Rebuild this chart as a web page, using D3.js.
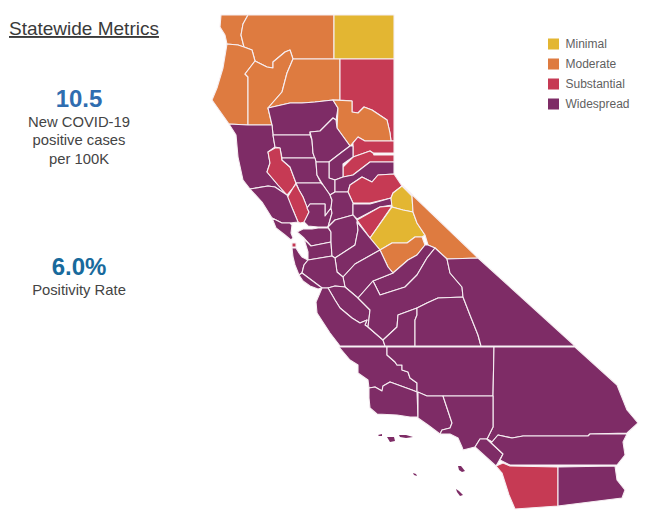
<!DOCTYPE html>
<html>
<head>
<meta charset="utf-8">
<script src="https://cdn.jsdelivr.net/npm/d3@7"></script>
<style>
    html, body { margin: 0; background: #fff; }
    text { font-family: "Liberation Sans", Arial, sans-serif; }
</style>
</head>
<body>
<div id="chart"></div>
<script>
const tierNames = ['Minimal', 'Moderate', 'Substantial', 'Widespread'];
const tierColors = ['#e3b632', '#de7b40', '#c63a54', '#7e2c66'];

const metricValues = ['10.5', '6.0%'];
const metricColors = ['#2f6db0', '#186a9c'];
const metricLabels = [['New COVID-19', 'positive cases', 'per 100K'], ['Positivity Rate']];

const countyNames = [
    'Del Norte', 'Siskiyou', 'Modoc', 'Humboldt', 'Trinity', 'Shasta', 'Lassen', 'Tehama', 'Plumas', 'Mendocino',
    'Glenn', 'Butte', 'Sierra', 'Nevada', 'Yuba', 'Lake', 'Colusa', 'Sutter', 'Placer', 'El Dorado',
    'Yolo', 'Napa', 'Sonoma', 'Solano', 'Sacramento', 'Amador', 'Alpine', 'Calaveras', 'Tuolumne', 'Mono',
    'Mariposa', 'Madera', 'Marin', 'Contra Costa', 'Alameda', 'San Joaquin', 'Stanislaus', 'Merced', 'San Francisco', 'San Mateo',
    'Santa Clara', 'Santa Cruz', 'San Benito', 'Monterey', 'Fresno', 'Kings', 'Tulare', 'Inyo', 'San Luis Obispo', 'Kern',
    'San Bernardino', 'Santa Barbara', 'Ventura', 'Los Angeles', 'Orange', 'Riverside', 'San Diego', 'Imperial'
];

const countyTiers = [
    'Moderate', 'Moderate', 'Minimal', 'Moderate', 'Moderate', 'Moderate', 'Substantial', 'Widespread', 'Moderate', 'Widespread',
    'Widespread', 'Widespread', 'Substantial', 'Substantial', 'Widespread', 'Substantial', 'Widespread', 'Widespread', 'Widespread', 'Substantial',
    'Widespread', 'Substantial', 'Widespread', 'Widespread', 'Widespread', 'Widespread', 'Minimal', 'Substantial', 'Minimal', 'Moderate',
    'Moderate', 'Widespread', 'Widespread', 'Widespread', 'Widespread', 'Widespread', 'Widespread', 'Widespread', 'Substantial', 'Widespread',
    'Widespread', 'Widespread', 'Widespread', 'Widespread', 'Widespread', 'Widespread', 'Widespread', 'Widespread', 'Widespread', 'Widespread',
    'Widespread', 'Widespread', 'Widespread', 'Widespread', 'Widespread', 'Widespread', 'Substantial', 'Widespread'
];

// outlines, in map units, same order as countyNames
const countyOutlines = [
    [[221,15],[248,15],[243,24],[241,35],[244,47],[238,45],[227,44],[225,35],[220,27]],
    [[248,15],[334,15],[334,59],[293,59],[290,50],[285,52],[273,62],[273,68],[267,67],[255,61],[252,50],[244,47],[241,35],[243,24]],
    [[334,15],[394,15],[394,59],[334,59]],
    [[227,44],[238,45],[244,47],[252,50],[255,61],[245,74],[248,77],[248,125],[229,124],[212,100],[217,88],[223,68]],
    [[255,61],[267,67],[273,68],[273,62],[285,52],[290,50],[293,59],[287,73],[282,92],[268,108],[272,125],[248,125],[248,77],[245,74]],
    [[293,59],[340,59],[340,100],[333,100],[315,102],[302,103],[290,103],[268,108],[282,92],[287,73]],
    [[340,59],[394,59],[394,141],[391,141],[390,133],[387,120],[372,110],[364,107],[358,113],[352,112],[352,101],[340,100]],
    [[268,108],[290,103],[302,103],[315,102],[333,100],[338,108],[336,120],[333,118],[320,131],[310,132],[310,135],[273,135],[272,125]],
    [[333,100],[352,101],[352,112],[358,113],[364,107],[372,110],[387,120],[390,133],[391,141],[365,141],[358,137],[350,146],[337,128],[338,108]],
    [[229,124],[248,125],[272,125],[273,135],[275,147],[268,152],[270,163],[267,172],[278,185],[287,195],[275,187],[268,186],[250,189],[243,180],[238,157],[236,135]],
    [[273,135],[310,135],[312,140],[313,153],[315,158],[282,158],[280,148],[275,147]],
    [[310,132],[320,131],[333,118],[336,120],[337,128],[350,146],[342,152],[329,162],[316,162],[313,153],[312,140]],
    [[353,157],[353,143],[358,137],[365,141],[394,141],[394,153],[373,153],[370,151]],
    [[343,177],[343,167],[353,157],[370,151],[373,153],[374,155],[394,155],[394,162],[370,162],[353,175]],
    [[342,152],[350,146],[353,146],[353,157],[343,164],[343,177],[335,180],[329,178],[329,162]],
    [[268,152],[275,148],[280,148],[282,160],[290,167],[296,183],[293,188],[287,195],[278,185],[267,172],[270,163]],
    [[282,158],[315,158],[316,162],[317,175],[321,183],[296,183],[290,167],[282,160]],
    [[316,162],[329,162],[329,178],[335,180],[335,192],[330,195],[323,185],[317,175]],
    [[335,180],[343,177],[353,175],[370,162],[394,162],[394,174],[378,175],[372,182],[362,177],[350,185],[348,192],[335,192]],
    [[348,192],[350,185],[362,177],[372,182],[378,175],[394,174],[402,186],[393,193],[391,198],[370,203],[353,203]],
    [[296,183],[321,183],[323,185],[330,195],[332,200],[331,208],[325,216],[325,204],[310,204],[307,208],[303,197],[299,190]],
    [[287,198],[293,188],[296,184],[299,190],[303,197],[309,212],[305,222],[300,223],[298,222],[293,210]],
    [[250,189],[268,186],[275,187],[287,195],[293,210],[298,222],[290,223],[282,223],[272,218],[262,202]],
    [[307,208],[310,204],[325,204],[325,216],[331,208],[332,213],[328,227],[318,227],[308,226],[304,222],[309,212]],
    [[335,192],[348,192],[353,203],[353,215],[335,220],[328,227],[332,213],[331,208],[332,200],[330,195]],
    [[353,204],[370,204],[391,198],[392,205],[380,207],[357,219],[353,215]],
    [[402,186],[412,196],[413,212],[403,210],[392,207],[391,198],[393,193]],
    [[357,220],[380,207],[392,206],[370,238]],
    [[370,238],[392,207],[403,210],[413,212],[417,223],[425,235],[422,237],[415,237],[407,243],[392,243],[380,250]],
    [[403,186],[478,258],[447,259],[435,248],[428,245],[425,235],[417,223],[413,212],[412,196]],
    [[380,250],[392,243],[407,243],[415,237],[422,237],[425,245],[417,255],[408,260],[393,273],[388,267]],
    [[393,273],[408,260],[417,255],[425,245],[428,245],[435,248],[427,258],[417,275],[405,287],[380,295],[373,281]],
    [[272,218],[282,223],[290,223],[292,225],[291,233],[293,238],[291,240],[285,235],[276,228]],
    [[297,232],[303,229],[312,229],[318,228],[328,228],[331,232],[331,242],[311,246],[304,238]],
    [[304,239],[311,246],[331,242],[332,256],[308,260],[308,252]],
    [[335,220],[353,215],[357,220],[358,230],[355,245],[335,258],[332,256],[331,242],[331,232],[328,227]],
    [[357,222],[370,238],[380,250],[355,264],[343,277],[337,272],[335,258],[355,245],[358,230]],
    [[343,277],[355,264],[380,250],[388,267],[393,273],[373,281],[358,298],[345,287]],
    [[292,243],[296,243],[296,247],[292,247]],
    [[292,248],[296,248],[299,253],[302,257],[308,260],[304,265],[302,273],[299,275],[295,265],[293,257]],
    [[308,260],[332,256],[335,258],[337,272],[343,277],[345,287],[335,286],[328,288],[322,288],[302,273],[304,265]],
    [[299,275],[302,273],[322,288],[318,289],[310,286],[303,281]],
    [[328,288],[335,286],[345,287],[358,298],[370,310],[368,327],[365,325],[367,320],[360,323],[352,318],[340,308],[335,300]],
    [[322,288],[328,288],[335,300],[340,308],[352,318],[360,323],[367,320],[365,325],[368,327],[383,340],[385,346],[340,346],[330,333],[317,313],[316,302]],
    [[373,281],[380,295],[405,287],[417,275],[427,258],[435,248],[447,259],[450,273],[462,287],[463,297],[438,298],[427,303],[417,308],[398,315],[397,327],[383,340],[368,327],[370,310],[358,298]],
    [[398,315],[417,308],[417,315],[415,320],[415,346],[385,346],[383,340],[397,327]],
    [[417,308],[427,303],[438,298],[463,297],[470,315],[478,335],[481,346],[415,346],[415,320],[417,315]],
    [[447,259],[478,258],[575,346],[481,346],[478,335],[470,315],[463,297],[462,287],[450,273]],
    [[339,347],[387,347],[387,355],[395,362],[397,365],[402,365],[402,370],[408,372],[410,378],[417,383],[417,392],[412,390],[390,382],[383,386],[382,391],[375,387],[369,388],[368,380],[358,373],[358,365],[350,360]],
    [[387,347],[494,347],[493,396],[443,396],[427,396],[417,392],[417,383],[410,378],[408,372],[402,370],[402,365],[397,365],[395,362],[387,355]],
    [[494,347],[575,347],[617,385],[627,410],[638,423],[627,433],[590,434],[588,436],[523,436],[512,438],[498,435],[492,442],[487,439],[493,427],[493,396]],
    [[369,388],[375,387],[382,391],[383,386],[390,382],[412,390],[417,392],[418,417],[410,417],[397,415],[377,414],[370,408],[369,398]],
    [[418,392],[427,396],[443,396],[452,423],[450,428],[442,430],[440,434],[428,425],[418,418]],
    [[443,396],[493,396],[493,427],[487,439],[480,439],[475,447],[463,450],[462,447],[458,438],[450,434],[440,434],[442,430],[450,428],[452,423]],
    [[475,447],[480,439],[487,439],[503,454],[496,466]],
    [[492,442],[498,435],[512,438],[523,436],[588,436],[590,434],[627,434],[623,442],[625,455],[617,465],[510,465],[500,460],[503,454],[487,439]],
    [[496,466],[503,463],[510,466],[558,467],[558,506],[515,509],[509,495],[502,473]],
    [[558,467],[615,466],[617,480],[625,490],[622,498],[558,506]]
];

const islandOutlines = [
    [[378,435],[382,434],[382,436],[379,436]],
    [[387,437],[394,437],[395,441],[390,442]],
    [[399,435],[406,435],[413,437],[406,438],[400,437]],
    [[413,473],[416,474],[417,476],[414,475]],
    [[458,466],[461,466],[465,471],[462,472],[459,470]],
    [[456,489],[459,491],[463,495],[460,496],[457,492]]
];

const width = 650;
const height = 520;

const svg = d3.select('#chart').append('svg')
    .attr('width', width)
    .attr('height', height);

const color = d3.scaleOrdinal().domain(tierNames).range(tierColors);

const counties = {
    type: 'FeatureCollection',
    features: countyNames.map((name, i) => ({
        type: 'Feature',
        properties: { name: name, tier: countyTiers[i] },
        geometry: { type: 'Polygon', coordinates: [countyOutlines[i].concat([countyOutlines[i][0]])] }
    }))
};

const projection = d3.geoIdentity().fitExtent([[212, 15], [638, 509]], counties);
const path = d3.geoPath(projection);

svg.append('g').selectAll('path')
    .data(counties.features)
    .join('path')
    .attr('d', path)
    .attr('fill', d => color(d.properties.tier))
    .attr('stroke', '#f6eef2')
    .attr('stroke-width', 1.1)
    .attr('stroke-linejoin', 'round');

svg.append('g').selectAll('path')
    .data(islandOutlines)
    .join('path')
    .attr('d', d => path({ type: 'Polygon', coordinates: [d.concat([d[0]])] }))
    .attr('fill', color('Widespread'));

// title
svg.append('text')
    .attr('x', 9)
    .attr('y', 35)
    .attr('font-size', 19)
    .attr('fill', '#3a3a3a')
    .attr('text-decoration', 'underline')
    .text('Statewide Metrics');

// metrics
const metricY = d3.scaleOrdinal().domain(metricValues).range([107, 275]);
const metrics = svg.append('g').attr('text-anchor', 'middle');

metricValues.forEach((value, i) => {
    metrics.append('text')
        .attr('x', 79)
        .attr('y', metricY(value))
        .attr('font-size', 24)
        .attr('font-weight', 'bold')
        .attr('fill', metricColors[i])
        .text(value);

    metricLabels[i].forEach((label, j) => {
        metrics.append('text')
            .attr('x', 79)
            .attr('y', metricY(value) + 19.5 + j * 18.5)
            .attr('font-size', 14.8)
            .attr('fill', '#444')
            .text(label);
    });
});

// legend
const legendY = d3.scaleBand().domain(tierNames).range([34, 114]);
const legend = svg.append('g').selectAll('g')
    .data(tierNames)
    .join('g')
    .attr('transform', d => `translate(548,${legendY(d) + 4.5})`);

legend.append('rect')
    .attr('width', 11)
    .attr('height', 11)
    .attr('fill', d => color(d));

legend.append('text')
    .attr('x', 17.5)
    .attr('y', 9.5)
    .attr('font-size', 12)
    .attr('fill', '#5f5f5f')
    .text(d => d);
</script>
</body>
</html>
